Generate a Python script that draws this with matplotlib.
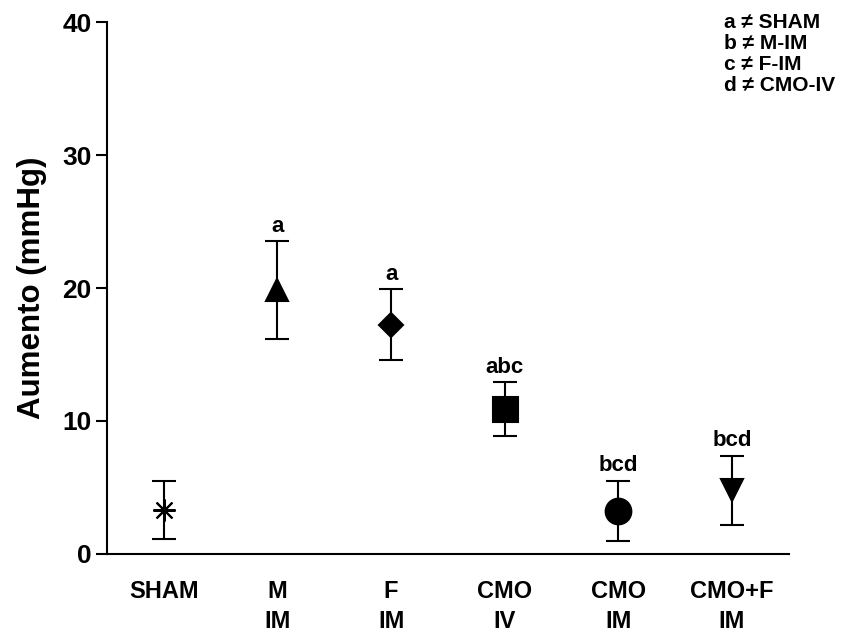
import numpy as np
import matplotlib.pyplot as plt

plt.rcParams['font.family'] = ['Liberation Sans', 'DejaVu Sans']
plt.rcParams['font.weight'] = 'bold'

grupos = ["SHAM", "M\nIM", "F\nIM", "CMO\nIV", "CMO\nIM", "CMO+F\nIM"]
media = [3.3, 19.85, 17.25, 10.9, 3.25, 4.8]
erro = [2.15, 3.65, 2.65, 2.0, 2.25, 2.6]
letras = ["", "a", "a", "abc", "bcd", "bcd"]
marcadores = [(8, 2, 0), "^", "D", "s", "o", "v"]
tamanhos = [16, 16, 12.5, 18, 18.5, 16]
legenda = ["a \u2260 SHAM", "b \u2260 M-IM", "c \u2260 F-IM", "d \u2260 CMO-IV"]

fig = plt.figure(figsize=(8.63, 6.35), dpi=100)
ax = fig.add_axes([0.124, 0.1276, 0.79, 0.8377])

x = np.arange(len(grupos))
for i in range(len(grupos)):
    ax.errorbar(x[i], media[i], yerr=erro[i], fmt='none', ecolor='black',
                elinewidth=1.5, capsize=8.5, capthick=1.5, zorder=2)
    ax.plot(x[i], media[i], marker=marcadores[i], markersize=tamanhos[i],
            color='black', markeredgewidth=1.5, linestyle='none', zorder=3)
    if letras[i]:
        ax.annotate(letras[i], (x[i], media[i] + erro[i]), xytext=(0, 7),
                    textcoords='offset points', ha='center', va='baseline',
                    fontsize=16, fontweight='bold')

ax.set_xlim(-0.5, 5.5)
ax.set_ylim(0, 40)
ax.set_yticks([0, 10, 20, 30, 40])
ax.set_xticks(x)
ax.set_xticklabels(grupos, fontsize=17, fontweight='bold', linespacing=1.35)
ax.tick_params(axis='x', length=0, pad=19)
ax.tick_params(axis='y', length=8, width=1.5, labelsize=19, pad=3)
for lab in ax.get_yticklabels():
    lab.set_fontweight('bold')

ax.spines['top'].set_visible(False)
ax.spines['right'].set_visible(False)
ax.spines['left'].set_linewidth(1.5)
ax.spines['bottom'].set_linewidth(1.5)

ax.set_ylabel("Aumento (mmHg)", fontsize=22.5, fontweight='bold', labelpad=11)

for k, txt in enumerate(legenda):
    fig.text(0.839, 1 - (22 + 21.3 * k) / 635, txt, fontsize=15,
             fontweight='bold', va='center', ha='left')

fig.savefig("out.png", dpi=100)
